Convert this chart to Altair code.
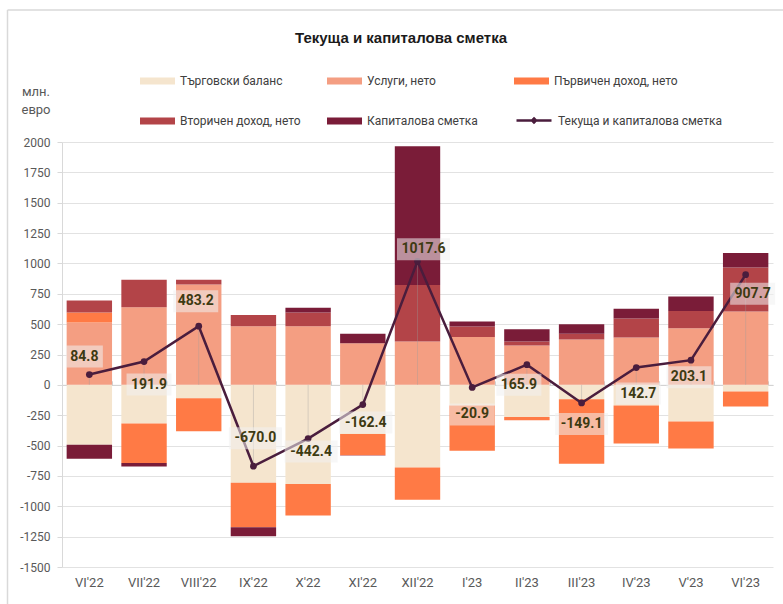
import altair as alt
import pandas as pd

# ---------------- data ----------------
months = ["VI'22", "VII'22", "VIII'22", "IX'22", "X'22", "XI'22", "XII'22",
          "I'23", "II'23", "III'23", "IV'23", "V'23", "VI'23"]
trade = [-494.2, -318, -110, -807, -816.4, -404.4, -681, -170, -264.1, -118, -170, -302, -55]
services = [513, 640, 826, 483, 483, 343, 357, 395, 324, 373, 390, 467, 604]
primary = [82, -325.1, -271.8, -365, -260, -173, -266, -371.9, -28, -531.1, -313.3, -221.9, -122.3]
secondary = [99, 225, 39, 93, 112, -5, 466, 85, 33, 47, 156, 142, 362]
capital = [-115, -30, 0, -74, 39, 77, 1141.6, 41, 101, 80, 80, 118, 119]
net = [84.8, 191.9, 483.2, -670.0, -442.4, -162.4, 1017.6, -20.9, 165.9, -149.1, 142.7, 203.1, 907.7]

series_names = ["Търговски баланс", "Услуги, нето", "Първичен доход, нето",
                "Вторичен доход, нето", "Капиталова сметка"]
line_name = "Текуща и капиталова сметка"
title_text = "Текуща и капиталова сметка"
unit_text = "млн.\nевро"

# ---------------- layout / style (not data) ----------------
colors = ["#F5E5CE", "#F49E82", "#FF7A45", "#B34448", "#7A1C38"]
line_color = "#4A1D3D"
label_dx = [-5, 5, -3, 2, 3, 3, 6, 0, -8, 0, 2, -2, 7]
label_dy = [-18, 23, -25, -28, 13, 18, -12, 27, 20, 21, 26, 17, 19]
FONT = "Roboto, Liberation Sans, sans-serif"
W, H = 711, 425
YMIN, YMAX = -1500, 2000
UPP = (YMAX - YMIN) / H  # data units per pixel
PAD_IN = 0.17
BANDW = W / len(months) * (1 - PAD_IN)

rows = []
for i, (name, vals) in enumerate(zip(series_names, [trade, services, primary, secondary, capital])):
    for m, v in zip(months, vals):
        rows.append({"month": m, "series": name, "value": v, "ord": i})
df_bars = pd.DataFrame(rows)

df_net = pd.DataFrame({
    "month": months,
    "net": net,
    "sname": [line_name] * len(months),
    "lab": [f"{v:.1f}" for v in net],
    "ldx": label_dx,
    "ldy": label_dy,
})
df_net["ly"] = df_net["net"] - df_net["ldy"] * UPP
df_net["by1"] = df_net["ly"] - 11 * UPP
df_net["by2"] = df_net["ly"] + 11 * UPP
df_net["bw"] = df_net["lab"].str.len() * 8 + 5
df_net["xo"] = df_net["ldx"] + BANDW / 2
df_net["zero"] = 0

xscale = alt.Scale(domain=months, paddingInner=PAD_IN, paddingOuter=PAD_IN / 2)
yscale = alt.Scale(domain=[YMIN, YMAX], nice=False, zero=False)

bars = alt.Chart(df_bars).mark_bar().encode(
    x=alt.X("month:N", sort=months, scale=xscale,
            axis=alt.Axis(title=None, orient="bottom", domain=False, ticks=False,
                          labelPadding=9, labelFont=FONT, labelFontSize=13,
                          labelColor="#595959", labelAngle=0, grid=False)),
    y=alt.Y("value:Q", stack="zero", scale=yscale,
            axis=alt.Axis(title=None, values=list(range(YMIN, YMAX + 1, 250)),
                          labelExpr="'' + datum.value", labelFont=FONT, labelFontSize=12,
                          labelColor="#595959", domainColor="#d9d9d9", tickColor="#d9d9d9",
                          tickSize=5, labelPadding=7, gridColor="#e2e2e2")),
    color=alt.Color("series:N", scale=alt.Scale(domain=series_names, range=colors),
                    legend=alt.Legend(title=None, orient="none", legendX=78, legendY=-71,
                                      columns=3, direction="horizontal",
                                      symbolType="M-1,-0.35H2.5V0.35H-1Z",
                                      symbolSize=400, symbolStrokeWidth=0, labelOffset=20,
                                      labelFont=FONT, labelFontSize=12, labelColor="#404040",
                                      columnPadding=23, rowPadding=24, gridAlign="all",
                                      labelLimit=300, padding=0)),
    order=alt.Order("ord:Q", sort="ascending"),
)

xnone = alt.X("month:N", sort=months, scale=xscale, axis=None)

drops = alt.Chart(df_net).mark_rule(color="#9a9a9a", opacity=0.35, strokeWidth=1).encode(
    x=xnone, y=alt.Y("zero:Q", scale=yscale, axis=None), y2="net:Q")

line = alt.Chart(df_net).mark_line(strokeWidth=2.5).encode(
    x=alt.X("month:N", sort=months, scale=xscale,
            axis=alt.Axis(title=None, orient="top", offset=-H * YMAX / (YMAX - YMIN),
                          labels=False, domain=True, domainColor="#d0d0d0", ticks=True,
                          tickColor="#d0d0d0", tickSize=4, tickBand="extent", grid=False)),
    y=alt.Y("net:Q", scale=yscale, axis=None),
    stroke=alt.Stroke("sname:N", scale=alt.Scale(domain=[line_name], range=[line_color]),
                      legend=alt.Legend(title=None, orient="none", legendX=453, legendY=-33,
                                        symbolType="M-1,0H2.5M0.75,-0.2L0.95,0L0.75,0.2L0.55,0Z",
                                        symbolSize=400, symbolStrokeWidth=2.5, labelOffset=20,
                                        labelFont=FONT, labelFontSize=12, labelColor="#404040",
                                        labelLimit=300, padding=0)),
)

points = alt.Chart(df_net).mark_point(filled=True, size=45, color=line_color, opacity=1).encode(
    x=xnone, y=alt.Y("net:Q", scale=yscale, axis=None))

boxes = alt.Chart(df_net).mark_bar(color="#f0f0f0", opacity=0.55).encode(
    x=xnone,
    xOffset=alt.XOffset("xo:Q", scale=None),
    y=alt.Y("by1:Q", scale=yscale, axis=None), y2="by2:Q",
    size=alt.Size("bw:Q", scale=None, legend=None))

labels = alt.Chart(df_net).mark_text(font=FONT, fontSize=14, fontWeight="bold",
                                     color="#3D3A12", baseline="middle", align="center").encode(
    x=xnone,
    xOffset=alt.XOffset("xo:Q", scale=None),
    y=alt.Y("ly:Q", scale=yscale, axis=None),
    text="lab:N")

one = pd.DataFrame({"t": [title_text], "u": [unit_text]})
title = alt.Chart(one).mark_text(font="Liberation Sans, Arial, sans-serif", fontSize=15,
                                 fontWeight="bold", color="#1a1a1a", align="center",
                                 baseline="middle").encode(
    x=alt.value(339), y=alt.value(-104), text="t:N")
unit = alt.Chart(one).mark_text(font=FONT, fontSize=13, color="#595959", align="center",
                                baseline="top", lineBreak="\n", lineHeight=18).encode(
    x=alt.value(-26), y=alt.value(-56), text="u:N")
frame_top = alt.Chart(one).mark_rule(color="#d9d9d9", strokeWidth=1.5).encode(
    x=alt.value(-54.5), x2=alt.value(730), y=alt.value(-132))
frame_left = alt.Chart(one).mark_rule(color="#d9d9d9", strokeWidth=1.5).encode(
    x=alt.value(-54.5), y=alt.value(-132), y2=alt.value(470))

chart = alt.layer(
    frame_top, frame_left, title, unit, bars, drops, line, points, boxes, labels
).resolve_axis(x="independent", y="independent").properties(
    width=W, height=H,
    autosize=alt.AutoSizeParams(type="none"),
    padding={"left": 62, "top": 142, "right": 10, "bottom": 37},
    background="white",
).configure_view(stroke=None)

chart.save("out.html", embed_options={"renderer": "svg", "actions": False})
